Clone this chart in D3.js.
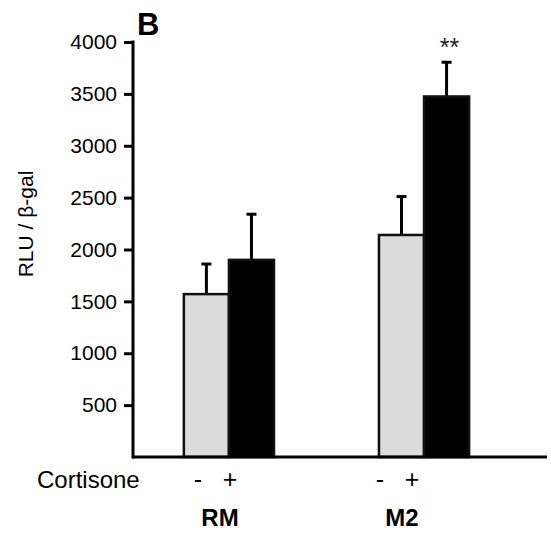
<!DOCTYPE html>
<html>
<head>
<meta charset="utf-8">
<script src="https://cdn.jsdelivr.net/npm/d3@7"></script>
<style>
    body { margin: 0; background: #fff; }
    svg { display: block; font-family: "Liberation Sans", Arial, sans-serif; }
</style>
</head>
<body>
<div id="chart"></div>
<script>
// values
const groups = ["RM", "M2"];
const treatments = ["-", "+"];
const means = {
    RM: [1570, 1900],
    M2: [2140, 3475]
};
const errors = {
    RM: [290, 440],
    M2: [370, 330]
};
const yTicks = [500, 1000, 1500, 2000, 2500, 3000, 3500, 4000];
const significance = [{ group: "M2", treatment: "+", mark: "**" }];

const width = 551, height = 539;
const axisX = 133, baseY = 457, topY = 42, rightX = 547;

const svg = d3.select("#chart")
    .append("svg")
    .attr("width", width)
    .attr("height", height);

const y = d3.scaleLinear()
    .domain([0, 4000])
    .range([baseY, topY]);

const x0 = d3.scaleBand()
    .domain(groups)
    .range([axisX, rightX])
    .paddingInner(0.538)
    .paddingOuter(0.33)
    .align(0.395);

const x1 = d3.scaleBand()
    .domain(treatments)
    .range([0, x0.bandwidth()]);

// labels under the axis sit a little apart from the bars
const labelX = d3.scalePoint()
    .domain(groups)
    .range([220, 402]);

const fills = { "-": "#dcdcdc", "+": "#000" };

const rows = groups.flatMap(g => treatments.map((t, i) => ({
    group: g,
    treatment: t,
    value: means[g][i],
    err: errors[g][i]
})));

const plot = svg.append("g");

// error bars first so the bar outline covers their foot
const err = plot.selectAll(".err")
    .data(rows)
    .join("g")
    .attr("class", "err")
    .attr("transform", d => `translate(${x0(d.group) + x1(d.treatment) + x1.bandwidth() / 2}, 0)`);

err.append("line")
    .attr("y1", d => y(d.value))
    .attr("y2", d => y(d.value + d.err))
    .attr("stroke", "#000")
    .attr("stroke-width", 3);

err.append("line")
    .attr("x1", -5)
    .attr("x2", 5)
    .attr("y1", d => y(d.value + d.err))
    .attr("y2", d => y(d.value + d.err))
    .attr("stroke", "#000")
    .attr("stroke-width", 3);

plot.selectAll(".bar")
    .data(rows)
    .join("rect")
    .attr("class", "bar")
    .attr("x", d => x0(d.group) + x1(d.treatment))
    .attr("y", d => y(d.value))
    .attr("width", x1.bandwidth())
    .attr("height", d => y(0) - y(d.value))
    .attr("fill", d => fills[d.treatment])
    .attr("stroke", "#111")
    .attr("stroke-width", 2.5);

// axes
const yAxis = d3.axisLeft(y)
    .tickValues(yTicks)
    .tickFormat(d3.format("d"))
    .tickSize(9)
    .tickPadding(7)
    .tickSizeOuter(0);

const yg = svg.append("g")
    .attr("transform", `translate(${axisX}, 0)`)
    .call(yAxis);

yg.select(".domain").remove();
yg.selectAll(".tick line").attr("stroke", "#000").attr("stroke-width", 3);
yg.selectAll(".tick text")
    .attr("fill", "#000")
    .style("font-size", "21px")
    .style("font-family", "'Liberation Sans', Arial, sans-serif");

svg.append("line")
    .attr("x1", axisX).attr("x2", axisX)
    .attr("y1", y(4000) - 1.5).attr("y2", baseY + 1.5)
    .attr("stroke", "#000")
    .attr("stroke-width", 3);

svg.append("line")
    .attr("x1", axisX).attr("x2", rightX)
    .attr("y1", baseY).attr("y2", baseY)
    .attr("stroke", "#000")
    .attr("stroke-width", 3);

svg.append("text")
    .attr("transform", `translate(33, 224) rotate(-90)`)
    .attr("text-anchor", "middle")
    .style("font-size", "21px")
    .text("RLU / β-gal");

svg.append("text")
    .attr("x", 137)
    .attr("y", 35)
    .style("font-size", "31px")
    .style("font-weight", "bold")
    .text("B");

// significance stars
svg.selectAll(".sig")
    .data(significance)
    .join("text")
    .attr("class", "sig")
    .attr("x", d => x0(d.group) + x1(d.treatment) + x1.bandwidth() / 2 + 3)
    .attr("y", 56)
    .attr("text-anchor", "middle")
    .attr("fill", "#222")
    .style("font-size", "25px")
    .text(d => d.mark);

// treatment row
svg.append("text")
    .attr("x", 37)
    .attr("y", 488)
    .style("font-size", "24px")
    .text("Cortisone");

const signs = groups.flatMap(g => treatments.map((t, i) => ({ group: g, treatment: t, i })));

svg.selectAll(".sign")
    .data(signs)
    .join("text")
    .attr("class", "sign")
    .attr("x", d => labelX(d.group) - 6 + (d.i ? 16 : -16))
    .attr("y", 488)
    .attr("text-anchor", "middle")
    .style("font-size", "25px")
    .text(d => d.treatment);

svg.selectAll(".group-label")
    .data(groups)
    .join("text")
    .attr("class", "group-label")
    .attr("x", d => labelX(d))
    .attr("y", 526)
    .attr("text-anchor", "middle")
    .style("font-size", "24px")
    .style("font-weight", "bold")
    .text(d => d);
</script>
</body>
</html>
